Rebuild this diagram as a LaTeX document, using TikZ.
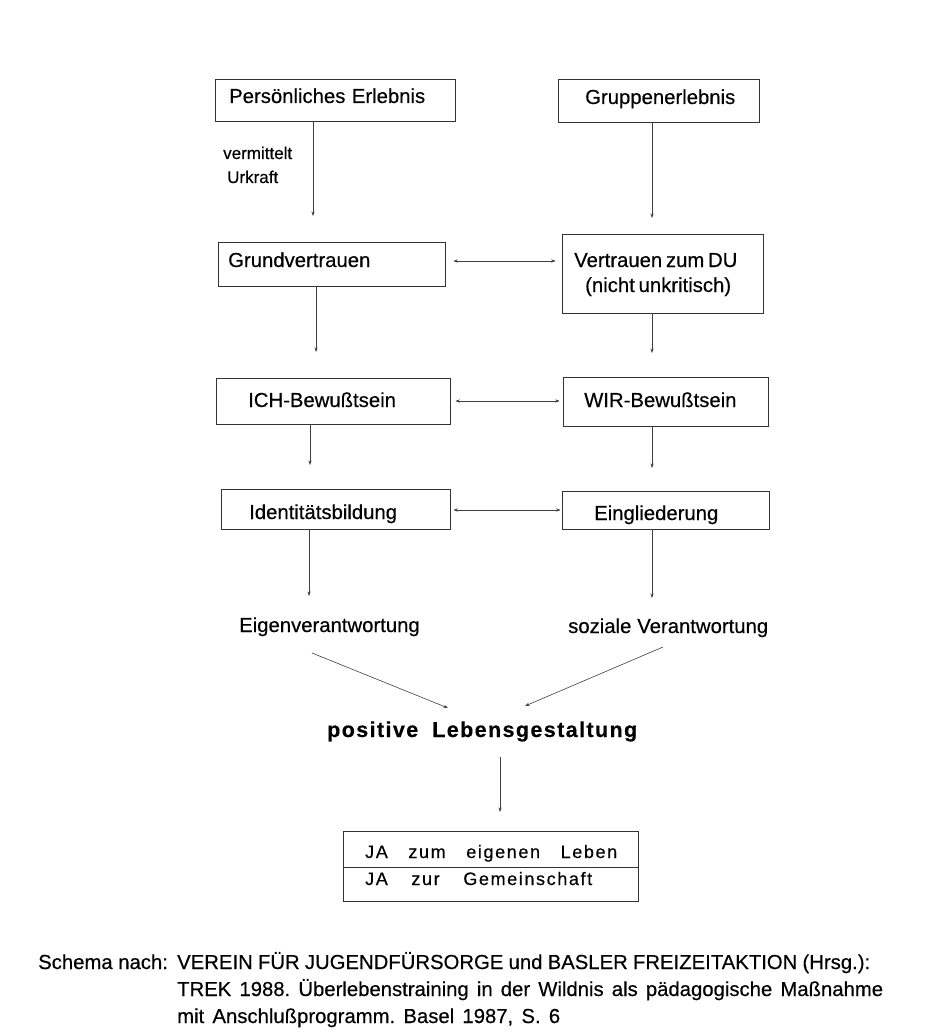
\documentclass[tikz,border=0pt]{standalone}
\usepackage{fontspec}
\setmainfont{Liberation Sans}[FakeBold=0.35]
\usetikzlibrary{arrows.meta}
\newcommand\myfs[1]{\fontsize{#1}{#1}\selectfont}
\frenchspacing
\begin{document}
\frenchspacing
\begin{tikzpicture}[x=1pt,y=-1pt,
  box/.style={draw=black!80, line width=0.7pt, rectangle, inner sep=0pt},
  txt/.style={anchor=base west, inner sep=0pt, font=\myfs{20.3}},
  small/.style={anchor=base west, inner sep=0pt, font=\myfs{17}},
  foot/.style={anchor=base west, inner sep=0pt, font=\myfs{20.3}},
  arr/.style={draw=black!75, line width=0.6pt, -{Stealth[length=4.5pt,width=3.2pt]}},
  darr/.style={draw=black!75, line width=0.6pt, {Stealth[length=4.5pt,width=3.2pt]}-{Stealth[length=4.5pt,width=3.2pt]}}]
\useasboundingbox[fill=white] (0,0) rectangle (926,1032);

% boxes
\node[box, minimum width=240pt, minimum height=42pt] (P)   at (335,100)   {};
\node[box, minimum width=201pt, minimum height=43pt] (G)   at (658.5,100.5) {};
\node[box, minimum width=227pt, minimum height=44pt] (GV)  at (331.5,264) {};
\node[box, minimum width=201pt, minimum height=79pt] (V)   at (662.5,273.5) {};
\node[box, minimum width=234pt, minimum height=46pt] (ICH) at (333,401)   {};
\node[box, minimum width=205pt, minimum height=49pt] (WIR) at (665.5,401.5) {};
\node[box, minimum width=229pt, minimum height=40pt] (ID)  at (335.5,509) {};
\node[box, minimum width=207pt, minimum height=38pt] (EIN) at (665.5,510) {};
\node[box, minimum width=295pt, minimum height=70pt] (JA)  at (490.5,866) {};
\coordinate (jd) at (490,867);
\draw[draw=black!80, line width=0.7pt] (JA.west |- jd) -- (JA.east |- jd);

% box texts
\node[txt] (Pt)   at (229,103) {\makebox[196pt][s]{Persönliches Erlebnis}};
\node[txt] (Gt)   at (585,104) {Gruppenerlebnis};
\node[txt] (GVt)  at (228,267) {Grundvertrauen};
\node[txt] (Vt1)  at (574,267) {\makebox[163pt][s]{Vertrauen zum DU}};
\node[txt] (Vt2)  at (585,292) {\makebox[144pt][s]{(nicht unkritisch)}};
\node[txt] (ICHt) at (248,407) {ICH-Bewußtsein};
\node[txt] (WIRt) at (584,407) {WIR-Bewußtsein};
\node[txt] (IDt)  at (249,519) {Identitätsbildung};
\node[txt] (EINt) at (594,520) {Eingliederung};
\node[small] (verm) at (223,159) {vermittelt};
\node[small] (urk)  at (227,183) {Urkraft};
\node[txt] (E)  at (239,632) {Eigenverantwortung};
\node[txt] (S)  at (568,633) {\makebox[200pt][s]{soziale Verantwortung}};
\node[anchor=base west, inner sep=0pt, font=\myfs{21.5}\bfseries\addfontfeatures{LetterSpace=6.5}] (PL) at (327,737) {\makebox[310pt][s]{positive Lebensgestaltung}};
\node[anchor=base west, inner sep=0pt, font=\myfs{18}\addfontfeatures{LetterSpace=9}] (JA1) at (365,858) {\makebox[252pt][s]{JA zum eigenen Leben}};
\node[anchor=base west, inner sep=0pt, font=\myfs{18}\addfontfeatures{LetterSpace=9}] (JA2) at (365,885) {\makebox[227pt][s]{JA zur Gemeinschaft}};

% footer
\node[foot] (f0) at (38,969)  {Schema nach:};
\node[foot] (f1) at (177,969) {\makebox[693pt][s]{VEREIN FÜR JUGENDFÜRSORGE und BASLER FREIZEITAKTION (Hrsg.):}};
\node[foot] (f2) at (177,996) {\makebox[706pt][s]{TREK 1988. Überlebenstraining in der Wildnis als pädagogische Maßnahme}};
\node[foot] (f3) at (177,1023) {\makebox[383pt][s]{mit Anschlußprogramm. Basel 1987, S. 6}};

% vertical arrows
\coordinate (a1) at (313,216);
\coordinate (a2) at (652,218);
\coordinate (a3) at (316,352);
\coordinate (a4) at (652,353);
\coordinate (a5) at (310,465);
\coordinate (a6) at (652,468);
\coordinate (a7) at (309,596);
\coordinate (a8) at (652,598);
\draw[arr] (P.south -| a1) -- (a1);
\draw[arr] (G.south -| a2) -- (a2);
\draw[arr] (GV.south -| a3) -- (a3);
\draw[arr] (V.south -| a4) -- (a4);
\draw[arr] (ICH.south -| a5) -- (a5);
\draw[arr] (WIR.south -| a6) -- (a6);
\draw[arr] (ID.south -| a7) -- (a7);
\draw[arr] (EIN.south -| a8) -- (a8);

% horizontal double arrows
\coordinate (h1) at (500,261);
\coordinate (h2) at (500,401);
\coordinate (h3) at (500,510);
\draw[darr, shorten <=8pt, shorten >=6pt] (GV.east |- h1) -- (V.west |- h1);
\draw[darr, shorten <=5pt, shorten >=3pt] (ICH.east |- h2) -- (WIR.west |- h2);
\draw[darr, shorten <=3pt, shorten >=1pt] (ID.east |- h3) -- (EIN.west |- h3);

% converging arrows
\coordinate (d1s) at (312,653);
\coordinate (d1e) at (448,708);
\coordinate (d2s) at (663,647);
\coordinate (d2e) at (525,706);
\draw[arr] (d1s) -- (d1e);
\draw[arr] (d2s) -- (d2e);

% final arrow
\coordinate (p1s) at (500,757);
\coordinate (p1e) at (500,812);
\draw[arr] (p1s) -- (p1e);
\end{tikzpicture}
\end{document}
